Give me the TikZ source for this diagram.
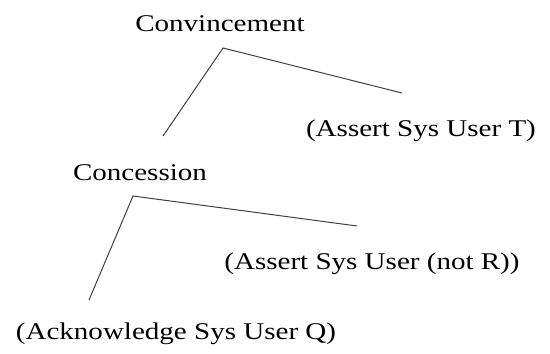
\documentclass[tikz,border=0pt]{standalone}
\usepackage{fontspec}
\setmainfont{Liberation Serif}
\newcommand{\wide}[1]{\scalebox{1.21}[1]{#1}}
\begin{document}
\begin{tikzpicture}[x=1pt,y=1pt,
  lbl/.style={inner sep=0pt, anchor=base, font=\fontsize{24}{28}\selectfont},
  branch/.style={draw=black!75, line width=1pt}]
\useasboundingbox (0,0) rectangle (550,354);
% relation names and their arguments
\node[lbl] (conv) at (220,322) {\wide{Convincement}};
\node[lbl] (assT) at (421,217) {\wide{(Assert Sys User T)}};
\node[lbl] (conc) at (140,173) {\wide{Concession}};
\node[lbl] (assR) at (372,84) {\wide{(Assert Sys User (not R))}};
\node[lbl] (ackQ) at (176,14) {\wide{(Acknowledge Sys User Q)}};
% branch points
\coordinate (ap1) at (223,306);
\coordinate (l1) at (163,218);
\coordinate (r1) at (402,261);
\coordinate (ap2) at (133,158);
\coordinate (l2) at (89,54);
\coordinate (r2) at (357,128);
\draw[branch] (l1) -- (ap1) -- (r1);
\draw[branch] (l2) -- (ap2) -- (r2);
\end{tikzpicture}
\end{document}
